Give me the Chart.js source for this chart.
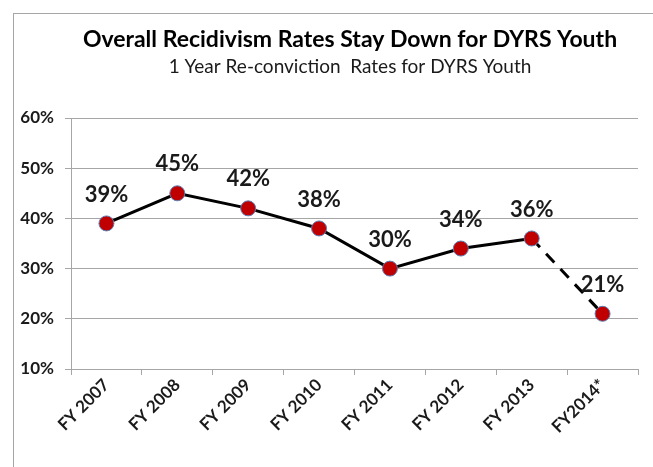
<!DOCTYPE html>
<html>
<head>
<meta charset="utf-8">
<script src="https://cdn.jsdelivr.net/npm/chart.js@4/dist/chart.umd.min.js"></script>
<style>
  html, body { margin: 0; padding: 0; background: #fff; }
  #wrap { width: 653px; height: 467px; }
</style>
</head>
<body>
<div id="wrap"><canvas id="myChart" width="653" height="467"></canvas></div>
<script>
// chart data
var years = ['FY 2007', 'FY 2008', 'FY 2009', 'FY 2010', 'FY 2011', 'FY 2012', 'FY 2013', 'FY2014*'];
var rates = [39, 45, 42, 38, 30, 34, 36, 21];
var yTicks = [10, 20, 30, 40, 50, 60];
var titleText = 'Overall Recidivism Rates Stay Down for DYRS Youth';
var subtitleText = '1 Year Re-conviction  Rates for DYRS Youth';

var fontName = 'Lato, "Open Sans", sans-serif';

// grey frame round the chart plus the two title lines (centred off the canvas middle like the original)
var framePlugin = {
    id: 'frame',
    beforeDraw: function(chart) {
        var ctx = chart.ctx;
        ctx.save();
        ctx.strokeStyle = '#a6a6a6';
        ctx.lineWidth = 1;
        ctx.strokeRect(13.5, 13.5, 700, 500);
        ctx.textAlign = 'center';
        ctx.textBaseline = 'middle';
        ctx.fillStyle = '#000';
        ctx.font = 'bold 23px ' + fontName;
        ctx.fillText(titleText, 350, 40);
        ctx.fillStyle = '#1a1a1a';
        ctx.font = '19px ' + fontName;
        ctx.fillText(subtitleText, 350, 67);
        ctx.restore();
    }
};

// percent labels above each point
var labelPlugin = {
    id: 'pctLabels',
    afterDatasetsDraw: function(chart) {
        var ctx = chart.ctx;
        var meta = chart.getDatasetMeta(0);
        ctx.save();
        ctx.font = 'bold 22px ' + fontName;
        ctx.fillStyle = '#1a1a1a';
        ctx.textAlign = 'center';
        ctx.textBaseline = 'middle';
        meta.data.forEach(function(pt, i) {
            ctx.fillText(rates[i] + '%', pt.x, pt.y - 29);
        });
        ctx.restore();
    }
};

var ctx = document.getElementById('myChart').getContext('2d');
var myChart = new Chart(ctx, {
    type: 'line',
    data: {
        labels: years,
        datasets: [{
            data: rates,
            borderColor: '#000',
            borderWidth: 3,
            pointBackgroundColor: '#c00000',
            pointBorderColor: '#5b7fb5',
            pointBorderWidth: 1,
            pointRadius: 7.5,
            fill: false,
            tension: 0,
            segment: {
                borderDash: function(c) { return c.p1DataIndex === rates.length - 1 ? [12, 9] : undefined; }
            }
        }]
    },
    options: {
        responsive: false,
        animation: false,
        layout: { padding: { left: 14, right: 15, top: 118, bottom: 8 } },
        plugins: {
            legend: { display: false },
            tooltip: { enabled: false }
        },
        scales: {
            x: {
                offset: true,
                afterFit: function(scale) { scale.height = 90; },
                grid: { drawOnChartArea: false, drawTicks: true, tickLength: 6, offset: true, color: '#a6a6a6' },
                border: { color: '#a6a6a6' },
                ticks: {
                    color: '#1a1a1a',
                    font: { family: fontName, size: 17, weight: 'bold' },
                    minRotation: 45,
                    maxRotation: 45,
                    padding: 0
                }
            },
            y: {
                min: 10,
                max: 60,
                afterFit: function(scale) { scale.width = 57; },
                afterBuildTicks: function(scale) {
                    scale.ticks = yTicks.map(function(v) { return { value: v }; });
                },
                grid: { color: '#a6a6a6', tickLength: 6 },
                border: { color: '#a6a6a6' },
                ticks: {
                    color: '#1a1a1a',
                    font: { family: fontName, size: 17, weight: 'bold' },
                    padding: 11,
                    callback: function(v) { return v + '%'; }
                }
            }
        }
    },
    plugins: [framePlugin, labelPlugin]
});
</script>
</body>
</html>
